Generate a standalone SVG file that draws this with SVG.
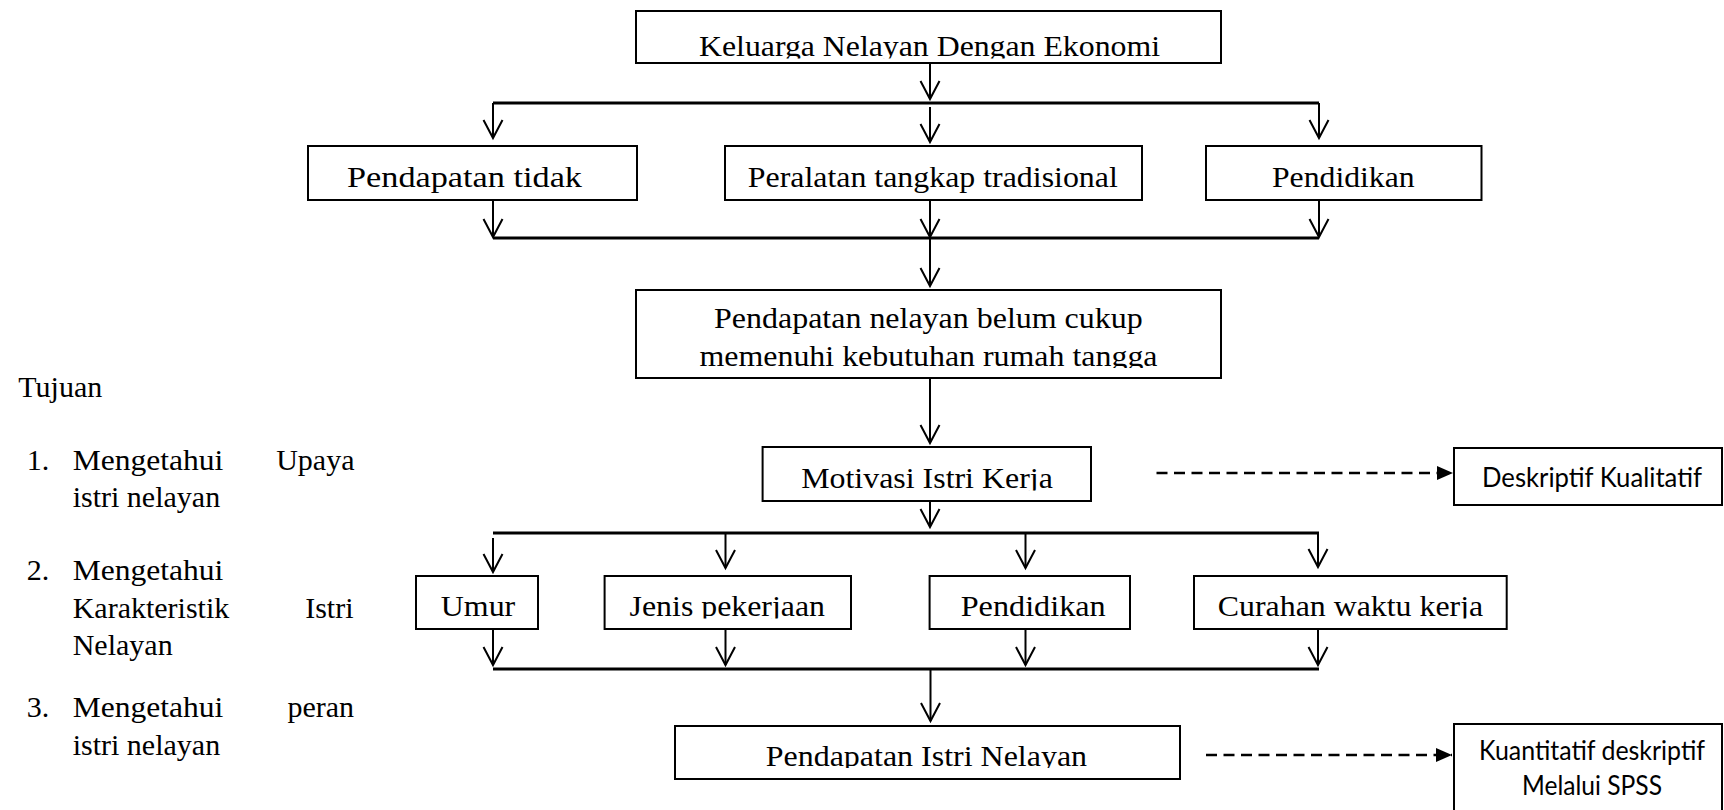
<svg xmlns="http://www.w3.org/2000/svg" width="1724" height="810" viewBox="0 0 1724 810">
<style>
.box{fill:#fff;stroke:#000;stroke-width:2}
.t{font-family:"Liberation Serif","Times New Roman",serif;font-size:30px;fill:#000}
.c{font-family:Lato,"Liberation Sans",sans-serif;font-size:27px;fill:#000}
.mid{text-anchor:middle}
.end{text-anchor:end}
.v{fill:none;stroke:#000;stroke-width:2;marker-end:url(#open)}
.h{fill:none;stroke:#000;stroke-width:2.8}
.d{fill:none;stroke:#000;stroke-width:2.5;stroke-dasharray:11 6.5;marker-end:url(#solid)}
</style>
<defs>
<marker id="open" markerUnits="userSpaceOnUse" markerWidth="24" markerHeight="24" viewBox="-21 -12 24 24" refX="0" refY="0" orient="auto">
<path d="M-18,-9.5 L0,0 L-18,9.5" fill="none" stroke="#000" stroke-width="2"/>
</marker>
<marker id="solid" markerUnits="userSpaceOnUse" markerWidth="20" markerHeight="20" viewBox="-18 -10 20 20" refX="0" refY="0" orient="auto">
<path d="M-16,-7 L0,0 L-16,7 Z" fill="#000"/>
</marker>
<clipPath id="cTop" clipPathUnits="userSpaceOnUse"><rect x="0" y="0" width="1724" height="58.5"/></clipPath>
<clipPath id="cB3" clipPathUnits="userSpaceOnUse"><rect x="0" y="0" width="1724" height="368"/></clipPath>
<clipPath id="cB4" clipPathUnits="userSpaceOnUse"><rect x="0" y="0" width="1724" height="490.5"/></clipPath>
<clipPath id="cR4" clipPathUnits="userSpaceOnUse"><rect x="0" y="0" width="1724" height="618.5"/></clipPath>
<clipPath id="cB5" clipPathUnits="userSpaceOnUse"><rect x="0" y="0" width="1724" height="768"/></clipPath>
</defs>
<rect width="1724" height="810" fill="#fff"/>

<g id="connectors">
<path class="v" d="M930,63 V99"/>
<path class="h" d="M493,103 H1319"/>
<path class="v" d="M493,103 V138"/>
<path class="v" d="M930,107 V142"/>
<path class="v" d="M1319,103 V138"/>
<path class="v" d="M493,200 V237"/>
<path class="v" d="M930,200 V237"/>
<path class="v" d="M1319,200 V237"/>
<path class="h" d="M493,238 H1319"/>
<path class="v" d="M930,238 V286"/>
<path class="v" d="M930,378 V443"/>
<path class="v" d="M930,501 V527"/>
<path class="h" d="M493,533 H1319"/>
<path class="v" d="M493,538 V572"/>
<path class="v" d="M725.5,533 V568"/>
<path class="v" d="M1025.5,533 V568"/>
<path class="v" d="M1318,533 V567"/>
<path class="v" d="M493,629 V665"/>
<path class="v" d="M725.5,629 V665"/>
<path class="v" d="M1025.5,629 V665"/>
<path class="v" d="M1318,629 V665"/>
<path class="h" d="M493,669 H1319"/>
<path class="v" d="M930.5,669 V721"/>
<path class="d" d="M1156.5,473 H1453"/>
<path class="d" d="M1206,755 H1452"/>
</g>

<g id="n-keluarga">
<rect class="box" x="636" y="11" width="585" height="52"/>
<text class="t mid" x="929.5" y="56" textLength="461" lengthAdjust="spacingAndGlyphs" clip-path="url(#cTop)">Keluarga Nelayan Dengan Ekonomi</text>
</g>
<g id="n-pendapatan-tidak">
<rect class="box" x="308" y="146" width="329" height="54"/>
<text class="t mid" x="464.5" y="187" textLength="235" lengthAdjust="spacingAndGlyphs">Pendapatan tidak</text>
</g>
<g id="n-peralatan">
<rect class="box" x="725" y="146" width="417" height="54"/>
<text class="t mid" x="932.8" y="187" textLength="370" lengthAdjust="spacingAndGlyphs">Peralatan tangkap tradisional</text>
</g>
<g id="n-pendidikan1">
<rect class="box" x="1206" y="146" width="275.5" height="54"/>
<text class="t mid" x="1343.3" y="187" textLength="142.6" lengthAdjust="spacingAndGlyphs">Pendidikan</text>
</g>
<g id="n-pendapatan-nelayan">
<rect class="box" x="636" y="290" width="585" height="88"/>
<text class="t mid" x="928.4" y="328" textLength="428.6" lengthAdjust="spacingAndGlyphs">Pendapatan nelayan belum cukup</text>
<text class="t mid" x="928.5" y="366" textLength="458" lengthAdjust="spacingAndGlyphs" clip-path="url(#cB3)">memenuhi kebutuhan rumah tangga</text>
</g>
<g id="n-motivasi">
<rect class="box" x="762.6" y="447" width="328.4" height="54"/>
<text class="t mid" x="927" y="488" textLength="251.7" lengthAdjust="spacingAndGlyphs" clip-path="url(#cB4)">Motivasi Istri Kerja</text>
</g>
<g id="n-umur">
<rect class="box" x="416" y="576" width="122" height="53"/>
<text class="t mid" x="478" y="616" textLength="74.5" lengthAdjust="spacingAndGlyphs">Umur</text>
</g>
<g id="n-jenis">
<rect class="box" x="604.6" y="576" width="246.4" height="53"/>
<text class="t mid" x="727.3" y="616" textLength="195.4" lengthAdjust="spacingAndGlyphs" clip-path="url(#cR4)">Jenis pekerjaan</text>
</g>
<g id="n-pendidikan2">
<rect class="box" x="929.6" y="576" width="200.4" height="53"/>
<text class="t mid" x="1033.2" y="616" textLength="145" lengthAdjust="spacingAndGlyphs">Pendidikan</text>
</g>
<g id="n-curahan">
<rect class="box" x="1194" y="576" width="312.7" height="53"/>
<text class="t mid" x="1350.5" y="616" textLength="265.4" lengthAdjust="spacingAndGlyphs" clip-path="url(#cR4)">Curahan waktu kerja</text>
</g>
<g id="n-pendapatan-istri">
<rect class="box" x="675" y="726" width="505" height="53"/>
<text class="t mid" x="926.4" y="766" textLength="321.4" lengthAdjust="spacingAndGlyphs" clip-path="url(#cB5)">Pendapatan Istri Nelayan</text>
</g>
<g id="n-deskriptif">
<rect class="box" x="1454" y="448" width="268" height="57"/>
<text class="c mid" x="1592" y="487" textLength="220" lengthAdjust="spacingAndGlyphs">Deskriptif Kualitatif</text>
</g>
<g id="n-kuantitatif">
<rect class="box" x="1454" y="724" width="268" height="100"/>
<text class="c mid" x="1592" y="760" textLength="226" lengthAdjust="spacingAndGlyphs">Kuantitatif deskriptif</text>
<text class="c mid" x="1592" y="795" textLength="140" lengthAdjust="spacingAndGlyphs">Melalui SPSS</text>
</g>

<g id="tujuan">
<text class="t" x="18.3" y="397">Tujuan</text>
<text class="t" x="26.7" y="470">1.</text>
<text class="t" x="72.7" y="470" textLength="150.6" lengthAdjust="spacingAndGlyphs">Mengetahui</text>
<text class="t end" x="354.5" y="470">Upaya</text>
<text class="t" x="72.7" y="506.7">istri nelayan</text>
<text class="t" x="26.7" y="580">2.</text>
<text class="t" x="72.7" y="580" textLength="150.6" lengthAdjust="spacingAndGlyphs">Mengetahui</text>
<text class="t" x="72.7" y="618.3">Karakteristik</text>
<text class="t end" x="353.5" y="618.3">Istri</text>
<text class="t" x="72.7" y="655">Nelayan</text>
<text class="t" x="26.7" y="716.7">3.</text>
<text class="t" x="72.7" y="716.7" textLength="150.6" lengthAdjust="spacingAndGlyphs">Mengetahui</text>
<text class="t end" x="354" y="716.7">peran</text>
<text class="t" x="72.7" y="755">istri nelayan</text>
</g>
</svg>
